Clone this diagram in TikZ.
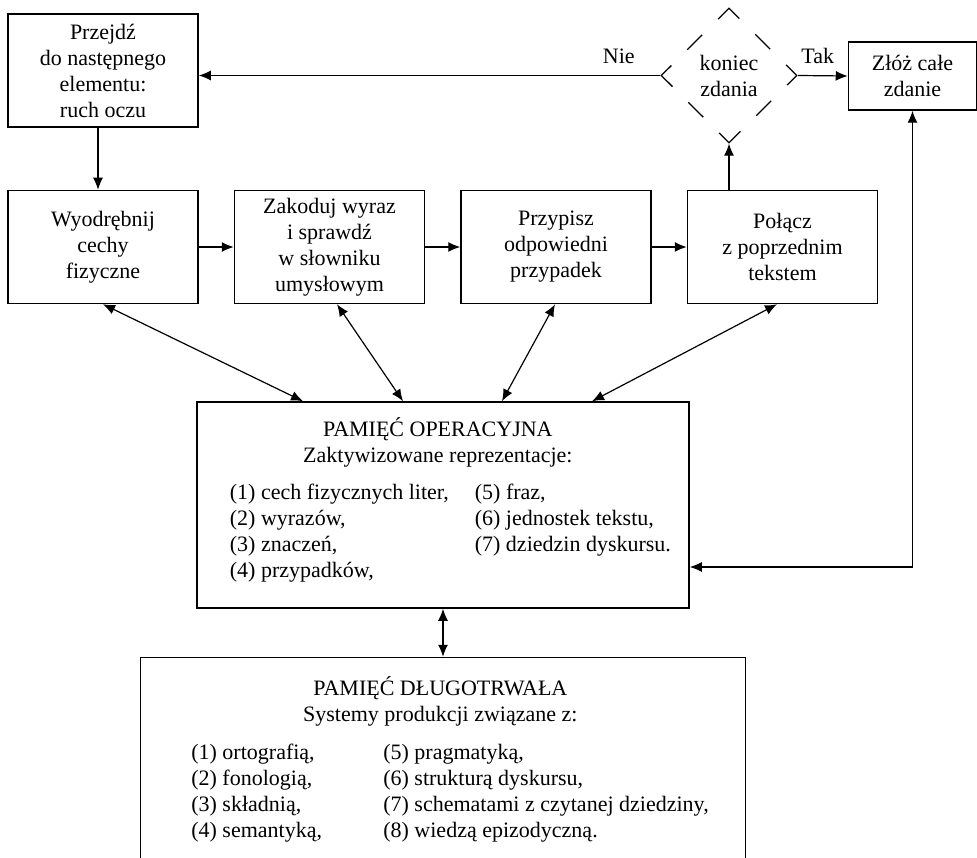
\documentclass[tikz,border=0pt]{standalone}
\usepackage{fontspec}
\setmainfont{Liberation Serif}
\usetikzlibrary{positioning,shapes.geometric,arrows.meta}
\tikzset{
  stepbox/.style={
    % The shape:
    rectangle,
    % The size:
    minimum width=190pt,
    minimum height=113pt,
    inner sep=0pt,
    % The border:
    line width=1.5pt,
    draw=black,
    align=center},
  decision/.style={
    % The shape:
    diamond,
    % The size:
    minimum width=136pt,
    minimum height=135pt,
    inner sep=0pt,
    % The border: corners and middles of the edges only
    line width=1.3pt,
    draw=black,
    dash pattern=on 30pt off 22.4pt on 21pt off 22.4pt,
    dash phase=15pt,
    align=center},
  membox/.style={
    % The shape:
    rectangle,
    inner sep=0pt,
    % The border:
    line width=1.5pt,
    draw=black},
  listtext/.style={anchor=base west,inner sep=0pt}
}

\begin{document}
\begin{tikzpicture}[x=1pt,y=-1pt,>={Latex[length=12pt,width=10pt]},line width=1.2pt,
                    font=\fontsize{22}{26}\selectfont]
  \path[use as bounding box] (0,0) rectangle (977,858);
  \clip (0,0) rectangle (977,858);

  % Steps of reading:
  \node (wyo) [stepbox] at (103,247) {Wyodrębnij\\cechy\\fizyczne};
  \node (zak) [stepbox,right=35pt of wyo] {Zakoduj wyraz\\i sprawdź\\w słowniku\\umysłowym};
  \node (prp) [stepbox,right=35pt of zak] {Przypisz\\odpowiedni\\przypadek};
  \node (pol) [stepbox,right=35pt of prp] {Połącz\\z poprzednim\\tekstem};
  \node (prz) [stepbox,above=62pt of wyo] {Przejdź\\do następnego\\elementu:\\ruch oczu};
  \node (koniec) [decision] at (729,75.5) {koniec\\zdania};
  \node (zloz) [membox,minimum width=128pt,minimum height=68pt,align=center] at (912.5,76) {Złóż całe\\zdanie};

  % Memory:
  \node (po) [membox,minimum width=492pt,minimum height=206pt] at (443,505) {};
  \node (pd) [membox,minimum width=605pt,minimum height=260pt,below=48pt of po] {};
  \node (potxt) [listtext] at ([xshift=33pt,yshift=-35pt]po.north west) {%
    \begin{tabular}[t]{@{}p{245pt}@{}l@{}}
      \multicolumn{2}{@{}l@{}}{\makebox[416pt]{PAMIĘĆ OPERACYJNA}}\\
      \multicolumn{2}{@{}l@{}}{\makebox[416pt]{Zaktywizowane reprezentacje:}}\\[11pt]
      (1) cech fizycznych liter, & (5) fraz,\\
      (2) wyrazów,               & (6) jednostek tekstu,\\
      (3) znaczeń,               & (7) dziedzin dyskursu.\\
      (4) przypadków,            &
    \end{tabular}};
  \node (pdtxt) [listtext] at ([xshift=51pt,yshift=-39pt]pd.north west) {%
    \begin{tabular}[t]{@{}p{192pt}@{}l@{}}
      \multicolumn{2}{@{}l@{}}{\makebox[498pt]{PAMIĘĆ DŁUGOTRWAŁA}}\\
      \multicolumn{2}{@{}l@{}}{\makebox[498pt]{Systemy produkcji związane z:}}\\[12pt]
      (1) ortografią, & (5) pragmatyką,\\
      (2) fonologią,  & (6) strukturą dyskursu,\\
      (3) składnią,   & (7) schematami z czytanej dziedziny,\\
      (4) semantyką,  & (8) wiedzą epizodyczną.
    \end{tabular}};

  % Flow:
  \draw[->] ([xshift=-5pt]prz.south) -- ([xshift=-5pt]wyo.north);
  \draw[->] (wyo) -- (zak);
  \draw[->] (zak) -- (prp);
  \draw[->] (prp) -- (pol);
  \draw[->] (koniec.south |- pol.north) -- (koniec.south);
  \draw[->] (koniec.west) -- node[above=11pt,pos=.09,inner sep=0pt] (nie) {Nie} (koniec.west -| prz.east);
  \draw[->] (koniec.east) -- node[above=11pt,pos=.4,inner sep=0pt] (tak) {Tak} (zloz.west);
  \draw[<->] (zloz.south) |- ([yshift=-62pt]po.east);
  \draw[<->] (po) -- (pd);
  \foreach \from/\fx/\tx in {wyo/0/-140,zak/7.5/-40,prp/-1/59,pol/-5.5/149}
    \draw[<->] ([xshift=\fx pt]\from.south) -- ([xshift=\tx pt]po.north);
\end{tikzpicture}
\end{document}
